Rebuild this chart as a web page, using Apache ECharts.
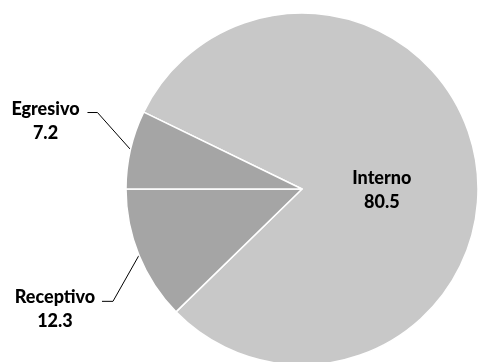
<!DOCTYPE html>
<html><head><meta charset="utf-8">
<script src="https://cdn.jsdelivr.net/npm/echarts@6/dist/echarts.min.js"></script>
<style>html,body{margin:0;padding:0;background:#fff}#c{width:479px;height:362px}</style>
</head><body><div id="c"></div>
<script>
const categories = ['Interno', 'Receptivo', 'Egresivo'];
const values = [80.5, 12.3, 7.2];

const colors = ['#c8c8c8', '#a5a5a5', '#a5a5a5'];
// leader-line shape per label: [elbow dx, elbow dy, end dx, label dx, label dy]
const leader = [null, [-26, 46, -11, -47, 8], [-33, -37, -10, -42, 9]];

const total = values.reduce((a, b) => a + b, 0);
const startAngle = 180 - 360 * values[2] / total;

const chart = echarts.init(document.getElementById('c'), null, {renderer: 'canvas'});
chart.setOption({
  animation: false,
  series: [{
    type: 'pie',
    center: [302, 189],
    radius: 176,
    startAngle: startAngle,
    clockwise: true,
    data: categories.map((c, i) => ({
      name: c, value: values[i],
      itemStyle: {color: colors[i]},
      label: i === 0 ? {position: 'inside'} : {position: 'outside'},
      labelLine: {show: i !== 0}
    })),
    itemStyle: {borderColor: '#fff', borderWidth: 1.5},
    label: {
      formatter: '{b}\n{c}',
      fontFamily: 'Lato',
      fontWeight: 900,
      fontSize: 18,
      lineHeight: 24,
      color: '#000',
      align: 'center'
    },
    labelLine: {lineStyle: {color: '#000', width: 1}, length: 20, length2: 10},
    labelLayout: function (p) {
      if (p.dataIndex === 0) {
        return {dx: -10, dy: 16};
      }
      const L = leader[p.dataIndex];
      const a = p.labelLinePoints[0];
      const elbow = [a[0] + L[0], a[1] + L[1]];
      const end = [elbow[0] + L[2], elbow[1]];
      return {
        x: end[0] + L[3],
        y: end[1] + L[4],
        align: 'center',
        verticalAlign: 'middle',
        labelLinePoints: [a, elbow, end]
      };
    }
  }]
});
</script></body></html>
